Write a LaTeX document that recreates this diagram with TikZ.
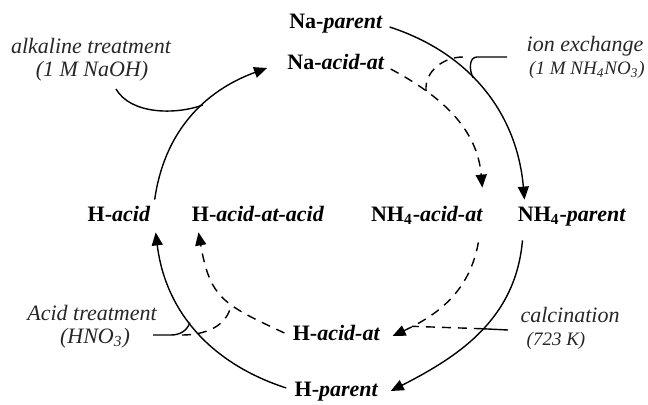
\documentclass[tikz,border=0pt]{standalone}
\usepackage{fontspec}
\setmainfont{Liberation Serif}
\usetikzlibrary{arrows.meta, calc}

\begin{document}
\begin{tikzpicture}[x=0.5pt, y=0.5pt,
    form/.style={font=\fontsize{11}{13}\selectfont\bfseries, inner sep=0pt,
        text height=8pt, text depth=2.5pt},
    treat/.style={font=\fontsize{11}{13}\selectfont\itshape, inner sep=0pt, black!85},
    cond/.style={treat, font=\fontsize{9.5}{11}\selectfont\itshape},
    route/.style={line width=0.7pt, -{Triangle[length=6.5pt, width=5.5pt]}},
    atroute/.style={route, dash pattern=on 4.5pt off 3.5pt},
    feed/.style={line width=0.7pt},
    atfeed/.style={feed, dash pattern=on 4.5pt off 3.5pt},
]
    \useasboundingbox (0,0) rectangle (648,404);

    % zeolite forms
    \node[form] (nap)   at (336,381)   {Na-\textit{parent}};
    \node[form] (naa)   at (336,340)   {Na-\textit{acid-at}};
    \node[form] (hacid) at (119,188)   {H-\textit{acid}};
    \node[form] (haaa)  at (258,188)   {H-\textit{acid-at-acid}};
    \node[form] (nh4a)  at (427,188)   {NH\textsubscript{4}-\textit{acid-at}};
    \node[form] (nh4p)  at (572,188)   {NH\textsubscript{4}-\textit{parent}};
    \node[form] (haa)   at (336.5,69)  {H-\textit{acid-at}};
    \node[form] (hp)    at (336.5,13)  {H-\textit{parent}};

    % treatments
    \node[treat] (alk)      at (91,358)  {alkaline treatment};
    \node[treat] (alkcond)  at (92,333)  {(1 M NaOH)};
    \node[treat] (ion)      at (585,358) {ion exchange};
    \node[cond]  (ioncond)  at (587,334) {(1 M NH\textsubscript{4}NO\textsubscript{3})};
    \node[treat] (acid)     at (92,91)   {Acid treatment};
    \node[treat] (acidcond) at (95,66)   {(HNO\textsubscript{3})};
    \node[treat] (calc)     at (570,89)  {calcination};
    \node[cond]  (calccond) at (556,63)  {(723 K)};

    \coordinate (alkend)  at (116,315);
    \coordinate (ionend)  at (507,347);
    \coordinate (acidend) at (153,69);
    \coordinate (calcend) at (508,74);

    % parent cycle
    \draw[route] ([shift={(6.5,-4)}]nap.east) to[out=-18, in=95]
        coordinate[pos=0.42] (ionjoin) ([shift={(7,5.5)}]nh4p.north west);
    \draw[route] ([shift={(5,-13.5)}]nh4p.south west) to[out=-95, in=27]
        coordinate[pos=0.48] (calcjoin) ([shift={(12,0)}]hp.east);
    \draw[route] ([shift={(-8,3)}]hp.west) to[out=162, in=-83]
        coordinate[pos=0.55] (acidjoin) ([shift={(5,-5.5)}]hacid.south east);
    \draw[route] ([shift={(4,5.5)}]hacid.north east) to[out=82, in=200]
        coordinate[pos=0.6] (alkjoin) ([shift={(-20,-4)}]naa.west);

    % acid-at cycle
    \draw[atroute] ([shift={(5.7,-5)}]naa.east) to[out=-28, in=95]
        coordinate[pos=0.25] (ionatjoin) ([shift={(-1,17.5)}]nh4a.north east);
    \draw[atroute] ([shift={(-5,-15.5)}]nh4a.south east) to[out=-100, in=25]
        coordinate[pos=0.85] (calcatjoin) ([shift={(12,-1)}]haa.east);
    \draw[atroute] ([shift={(-8,2)}]haa.west) to[out=155, in=-80, looseness=1.3]
        coordinate[pos=0.4] (acidatjoin) ([shift={(7,-5.5)}]haaa.south west);

    % treatment feeds
    \draw[feed] (alkend) to[out=-60, in=200, looseness=0.85] (alkjoin);
    \draw[feed] (ionend) -- ++(-30,0) to[out=180, in=120] (ionjoin);
    \draw[atfeed] ($(ionend)+(-44,0)$) to[out=180, in=95] (ionatjoin);
    \draw[feed] (calcend) -- (calcjoin);
    \draw[atfeed] (calcjoin) -- (calcatjoin);
    \draw[feed] (acidend) -- ++(18,0) to[out=0, in=-110] (acidjoin);
    \draw[atfeed] ($(acidend)+(29,0)$) to[out=0, in=-100] (acidatjoin);
\end{tikzpicture}
\end{document}
